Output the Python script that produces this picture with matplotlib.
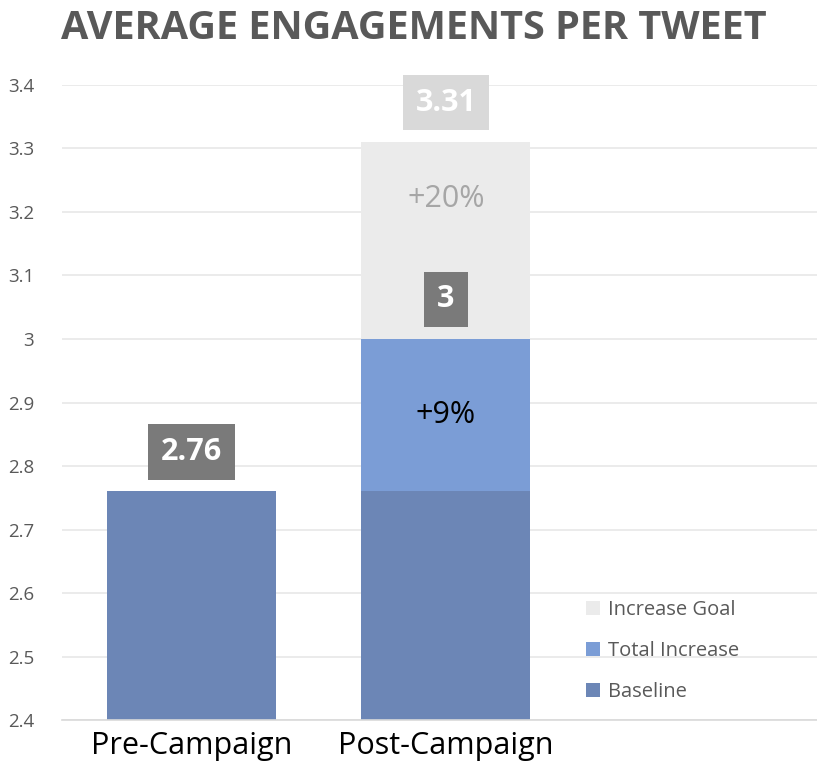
import numpy as np
import matplotlib
matplotlib.use('Agg')
import matplotlib.pyplot as plt

categories = ['Pre-Campaign', 'Post-Campaign']
baseline = [2.76, 2.76]
total_increase = [0.0, 0.24]   # on top of baseline -> 3.00
increase_goal = [0.0, 0.31]    # on top of that -> 3.31
series_names = ['Baseline', 'Total Increase', 'Increase Goal']

c_base = '#6c86b6'
c_incr = '#7b9dd6'
c_goal = '#ebebeb'
txt_gray = '#595959'

plt.rcParams['font.family'] = ['Open Sans', 'DejaVu Sans']

fig = plt.figure(figsize=(8.17, 7.65), dpi=100)
ax = fig.add_axes([0.0759, 0.0588, 0.9241, 0.8301])

x = np.arange(len(categories))
w = 0.665
base = np.array(baseline)
incr = np.array(total_increase)
goal = np.array(increase_goal)

ax.bar(x, base, w, color=c_base, label=series_names[0], zorder=2)
ax.bar(x[1:], incr[1:], w, bottom=base[1:], color=c_incr, label=series_names[1], zorder=2)
ax.bar(x[1:], goal[1:], w, bottom=(base + incr)[1:], color=c_goal, label=series_names[2], zorder=2)

ax.set_ylim(2.4, 3.4)
ax.set_xlim(-0.511, 2.46)
ax.set_yticks(np.arange(2.4, 3.41, 0.1))
ax.set_yticklabels(['2.4', '2.5', '2.6', '2.7', '2.8', '2.9', '3', '3.1', '3.2', '3.3', '3.4'])
ax.grid(axis='y', color='#e8e8e8', linewidth=1.2, zorder=0)
ax.set_axisbelow(True)
ax.set_xticks(x)
ax.set_xticklabels(categories, fontsize=22, color='black')
ax.tick_params(axis='y', length=0, labelsize=13.5, labelcolor=txt_gray, pad=20)
ax.tick_params(axis='x', length=0, pad=8)
for s in ['top', 'right', 'left']:
    ax.spines[s].set_visible(False)
ax.spines['bottom'].set_color('#d9d9d9')
ax.spines['bottom'].set_linewidth(1.2)

# value boxes above each bar top
def value_box(xp, yv, text, face):
    ax.annotate(text, (xp, yv), xytext=(0, 28.5), textcoords='offset points',
                ha='center', va='center', fontsize=22, fontweight='bold', color='white',
                bbox=dict(boxstyle='square,pad=0.42', fc=face, ec='none'), zorder=5)

value_box(x[0], base[0], f'{base[0]:g}', '#7a7a7a')
value_box(x[1], base[1] + incr[1], f'{base[1] + incr[1]:g}', '#7a7a7a')
value_box(x[1], base[1] + incr[1] + goal[1], f'{base[1] + incr[1] + goal[1]:g}', '#d9d9d9')

# percent change labels
pct_incr = (base[1] + incr[1]) / base[0] - 1
pct_goal = (base[1] + incr[1] + goal[1]) / base[0] - 1
ax.text(x[1], base[1] + incr[1] / 2, f'+{pct_incr:.0%}', ha='center', va='center',
        fontsize=22, color='black', zorder=5)
ax.text(x[1], 3.22, f'+{pct_goal:.0%}', ha='center', va='center',
        fontsize=22, color='#a6a6a6', zorder=5)

handles, labels = ax.get_legend_handles_labels()
leg = ax.legend(handles[::-1], labels[::-1], loc='lower left', bbox_to_anchor=(0.67, 0.0),
                frameon=False, fontsize=14.5, labelcolor=txt_gray, handlelength=0.7,
                handleheight=0.7, handletextpad=0.4, labelspacing=1.05)

fig.text(0.507, 0.963, 'AVERAGE ENGAGEMENTS PER TWEET', ha='center', va='center',
         fontsize=28.5, fontweight='bold', color=txt_gray)

fig.savefig('out.png', dpi=100)
